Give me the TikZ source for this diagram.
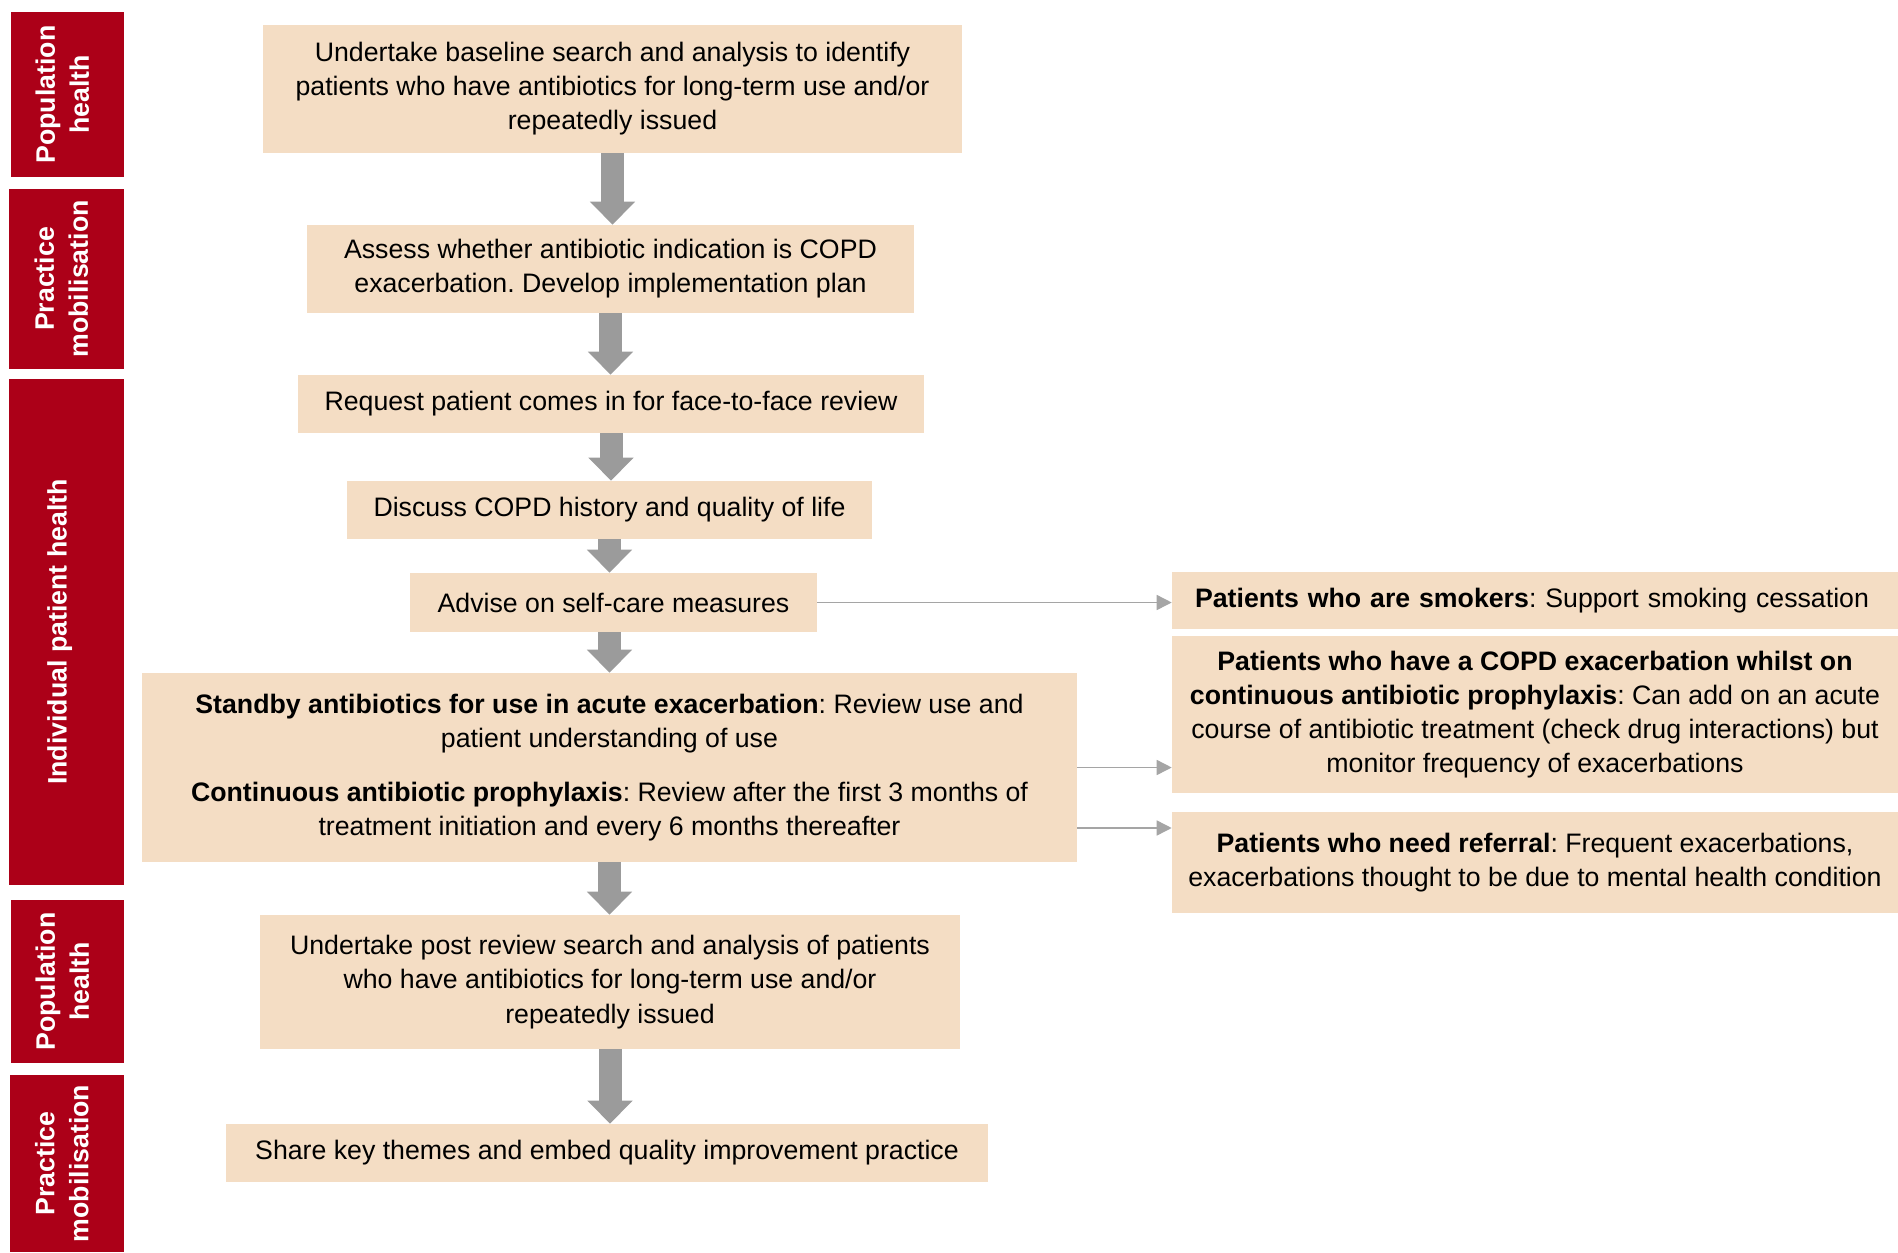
\documentclass[tikz,border=0pt]{standalone}
\usepackage{fontspec}
\setmainfont{Liberation Sans}
\usetikzlibrary{positioning, arrows.meta}
\frenchspacing

\definecolor{bandred}{RGB}{172,0,24}
\definecolor{boxfill}{RGB}{244,221,196}
\definecolor{arrowgrey}{RGB}{155,155,155}
\definecolor{linegrey}{RGB}{165,165,165}

\begin{document}
\begin{tikzpicture}[
    % GLOBAL CFG
    x=0.02cm, y=-0.02cm,
    font=\fontsize{15.2}{19.4}\selectfont,
    % Styles
    band/.style={% For the red stage labels
        rectangle,
        fill=bandred,
        text=white,
        rotate=90,
        align=center,
        inner sep=0pt,
        font=\fontsize{15.2}{19.4}\selectfont\bfseries,
        },
    stepbox/.style={% For the main steps
        rectangle,
        fill=boxfill,
        align=center,
        inner sep=0pt,
        },
    sidebox/.style={% For the patient groups on the right
        rectangle,
        fill=boxfill,
        align=center,
        inner sep=0pt,
        minimum width=14.52cm,
        },
    BigArrow/.style={% Block arrows between the steps
        draw=arrowgrey,
        line width=0.46cm,
        -{Triangle[width=0.88cm,length=0.46cm]},
        },
    ThinArrow/.style={% Arrows to the patient groups
        draw=linegrey,
        line width=0.85pt,
        -{Triangle[width=0.3cm,length=0.3cm]},
        },
    ]

\useasboundingbox (0,0) rectangle (1898,1252);

    % Draw the stage bands
    \node [band, minimum width=3.3cm, minimum height=2.26cm, text depth=6pt] (pop1) at (67.5,94.5) {Population\\health};
    \node [band, minimum width=3.6cm, minimum height=2.3cm, text depth=6pt] (prac1) at (66.5,279) {Practice\\mobilisation};
    \node [band, minimum width=10.12cm, minimum height=2.3cm, text height=11pt, text depth=11pt] (indiv) at (66.5,632) {Individual patient health};
    \node [band, minimum width=3.26cm, minimum height=2.26cm, text depth=6pt] (pop2) at (67.5,981.5) {Population\\health};
    \node [band, minimum width=3.54cm, minimum height=2.28cm, text depth=6pt] (prac2) at (67,1163.5) {Practice\\mobilisation};

    % Draw the main steps
    \node [stepbox, minimum width=13.98cm, minimum height=2.56cm] (baseline) at (612.5,89)
        {Undertake baseline search and analysis to identify\\patients who have antibiotics for long-term use and/or\\repeatedly issued};
    \node [stepbox, minimum width=12.14cm, minimum height=1.76cm] (assess) at (610.5,269)
        {Assess whether antibiotic indication is COPD\\exacerbation. Develop implementation plan};
    \node [stepbox, minimum width=12.52cm, minimum height=1.16cm] (request) at (611,404)
        {Request patient comes in for face-to-face review};
    \node [stepbox, minimum width=10.5cm, minimum height=1.16cm] (discuss) at (609.5,510)
        {Discuss COPD history and quality of life};
    \node [stepbox, minimum width=8.14cm, minimum height=1.18cm] (advise) at (613.5,602.5)
        {Advise on self-care measures};
    \node [stepbox, minimum width=18.7cm, minimum height=3.78cm] (review) at (609.5,767.5)
        {\textbf{Standby antibiotics for use in acute exacerbation}: Review use and\\patient understanding of use\\[0.4cm]
         \textbf{Continuous antibiotic prophylaxis}: Review after the first 3 months of\\treatment initiation and every 6 months thereafter};
    \node [stepbox, minimum width=14cm, minimum height=2.68cm] (post) at (610,982)
        {Undertake post review search and analysis of patients\\who have antibiotics for long-term use and/or\\repeatedly issued};
    \node [stepbox, minimum width=15.24cm, minimum height=1.16cm] (share) at (607,1153)
        {Share key themes and embed quality improvement practice};

    % Draw the patient groups
    \node [sidebox, minimum height=1.14cm, text width=13.6cm, align=left, inner xsep=0.46cm] (smokers) at (1535,600.5)
        {\textbf{Patients who are smokers}: Support smoking cessation};
    \node [sidebox, minimum height=3.14cm] (onproph) at (1535,714.5)
        {\textbf{Patients who have a COPD exacerbation whilst on}\\\textbf{continuous antibiotic prophylaxis}: Can add on an acute\\course of antibiotic treatment (check drug interactions) but\\monitor frequency of exacerbations};
    \node [sidebox, minimum height=2.02cm] (referral) at (1535,862.5)
        {\textbf{Patients who need referral}: Frequent exacerbations,\\exacerbations thought to be due to mental health condition};

% Start connecting all.
    % Main flow
    \draw [BigArrow] (baseline.south) -- (baseline.south |- assess.north);
    \draw [BigArrow] (assess.south) -- (assess.south |- request.north);
    \draw [BigArrow] (request.south) -- (request.south |- discuss.north);
    \draw [BigArrow] (discuss.south) -- (discuss.south |- advise.north);
    \draw [BigArrow] (discuss.south |- advise.south) -- (discuss.south |- review.north);
    \draw [BigArrow] (review.south) -- (review.south |- post.north);
    \draw [BigArrow] (post.south) -- (post.south |- share.north);

    % Side branches
    \coordinate (lowout) at ([yshift=-1.21cm]review.east);
    \draw [ThinArrow] (advise.east) -- (advise.east -| smokers.west);
    \draw [ThinArrow] (review.east) -- (review.east -| onproph.west);
    \draw [ThinArrow] (lowout) -- (lowout -| referral.west);

\end{tikzpicture}
\end{document}
